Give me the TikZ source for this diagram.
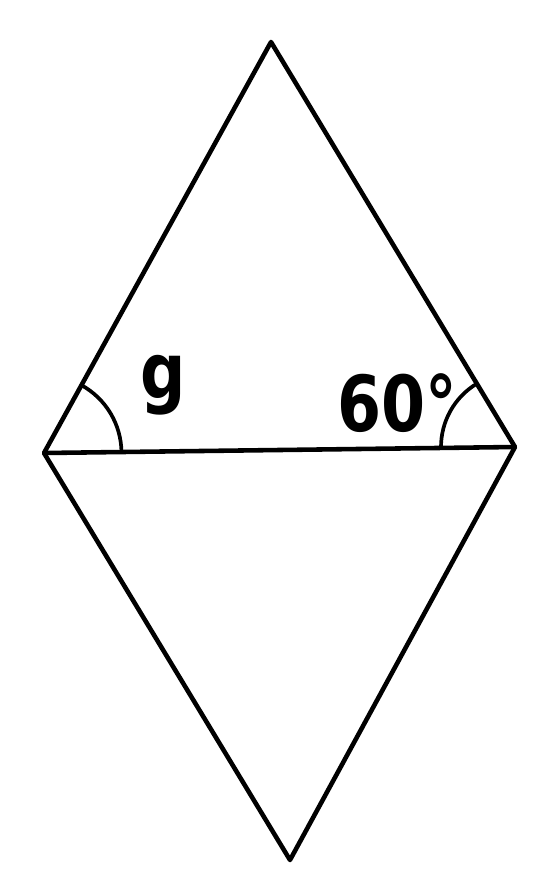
\documentclass[tikz,border=0pt]{standalone}
\usepackage{fontspec}
\setmainfont{DejaVu Sans}
\usetikzlibrary{angles,calc}

\begin{document}
\begin{tikzpicture}[
  x=0.02cm, y=-0.02cm,
  edge/.style={line width=2.6pt, line join=round},
  anglearc/.style={draw, line width=2.1pt, angle radius=1.55cm},
  lbl/.style={font=\fontsize{44}{44}\selectfont\bfseries, inner sep=0pt,
    transform shape, xscale=0.82}]
\useasboundingbox (0,0) rectangle (541,893);
\coordinate (top)    at (271,42);
\coordinate (left)   at (44,453);
\coordinate (right)  at (515,447);
\coordinate (bottom) at (290,860);

\draw[edge] (left) -- (top) -- (right) -- (bottom) -- cycle;
\draw[edge] (left) -- (right);

\pic[anglearc] {angle = right--left--top};
\pic[anglearc, angle radius=1.48cm] {angle = top--right--left};

\node[lbl] (g)   at (163,385) {g};
\node[lbl] (deg) at (397,403) {60°};
\end{tikzpicture}
\end{document}
